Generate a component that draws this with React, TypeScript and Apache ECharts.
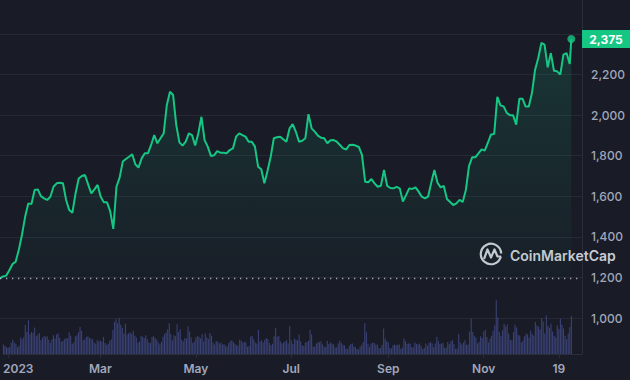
import React, { useEffect, useRef } from 'react';
import * as echarts from 'echarts';

// ---- data ----
// price sampled every 2 days starting 2022-12-29 (USD)
const prices = [
  1196, 1205, 1209, 1237, 1266, 1278, 1338, 1412, 1500, 1565, 1562, 1631, 1634, 1601, 1590, 1582,
  1598, 1647, 1664, 1667, 1664, 1582, 1532, 1519, 1614, 1688, 1700, 1705, 1659, 1614, 1634, 1656,
  1598, 1570, 1570, 1527, 1439, 1647, 1692, 1771, 1784, 1795, 1807, 1758, 1741, 1787, 1812, 1812,
  1853, 1902, 1861, 1886, 1910, 2050, 2115, 2099, 1951, 1866, 1850, 1869, 1910, 1902, 1850, 1910,
  1992, 1877, 1845, 1799, 1802, 1823, 1815, 1815, 1812, 1828, 1836, 1894, 1910, 1902, 1894, 1869,
  1869, 1845, 1746, 1733, 1664, 1726, 1795, 1886, 1891, 1894, 1881, 1869, 1935, 1956, 1918, 1869,
  1874, 1886, 2005, 1935, 1919, 1899, 1889, 1886, 1861, 1876, 1877, 1869, 1853, 1836, 1831, 1853,
  1854, 1850, 1843, 1804, 1672, 1669, 1685, 1664, 1647, 1652, 1730, 1652, 1641, 1639, 1646, 1639,
  1574, 1606, 1639, 1636, 1644, 1623, 1598, 1590, 1598, 1667, 1730, 1667, 1644, 1651, 1587, 1572,
  1557, 1565, 1582, 1572, 1631, 1749, 1792, 1792, 1812, 1831, 1825, 1864, 1905, 1907, 2090, 2048,
  2043, 2011, 2000, 2000, 1953, 2081, 2081, 2042, 2043, 2109, 2224, 2282, 2356, 2348, 2236, 2306,
  2219, 2216, 2200, 2298, 2306, 2252,
];
const lastDate = '2023-12-27';
const lastPrice = 2375;
const openPrice = 1196;

// daily volume starting 2022-12-29 (billion USD)
const volumes = [
  4.2, 3.6, 3.0, 2.6, 3.2, 4.8, 6.2, 5.0, 4.4, 3.0, 3.6, 7.2, 6.4, 7.4, 12.7, 9.6, 14.8, 8.6, 9.6, 9.2, 11.6,
  7.8, 8.5, 9.2, 6.0, 7.2, 8.0, 7.5, 7.8, 6.2, 4.8, 6.5, 8.2, 6.8,
  8.6, 9.0, 7.0, 5.2, 5.8, 6.5, 7.0, 6.8, 9.5, 8.0, 4.5, 5.0, 7.8, 8.2, 9.5, 11.8, 10.2, 6.0, 6.5, 7.4, 7.8, 7.0, 6.8, 6.5, 5.0, 4.5, 6.0, 5.5,
  6.0, 5.4, 7.5, 4.8, 3.9, 4.5, 5.8, 6.5,
  10.5, 14.0, 15.2, 13.5, 15.8, 12.8, 11.5, 9.0, 13.2, 8.5,
  9.0, 9.5, 8.8, 10.2, 8.0, 7.2, 5.0, 5.5, 8.0, 7.5, 7.0, 8.2, 6.5,
  5.0, 4.8, 7.6, 7.8, 7.0, 6.2, 5.0, 4.2, 5.2, 7.6, 8.8, 9.4, 10.8,
  13.5, 8.8, 6.0, 8.2, 7.8, 13.0, 9.5, 10.8, 6.2, 5.5, 7.0, 6.8, 12.0, 9.8, 7.2, 4.8, 5.5,
  7.2, 8.0, 7.5, 6.8, 8.6, 5.5, 9.0, 7.2, 6.6, 9.2, 8.0, 5.0, 4.2, 5.8, 5.2, 4.6, 5.0, 4.0, 4.4, 3.6, 3.2, 4.8, 5.6, 6.0, 5.2, 4.4, 3.8, 3.6, 6.2, 5.8, 5.0,
  5.4, 5.0, 3.2, 3.5, 7.5, 8.0, 6.4, 5.0, 4.6, 10.5, 5.5, 6.0, 5.0, 6.2, 7.0, 6.5, 4.8, 3.8, 4.5, 7.8, 11.4, 7.5, 8.0, 5.6, 4.6, 5.0, 5.5, 6.0, 4.6, 12.2,
  6.0, 4.4, 6.8, 6.2, 6.0, 8.5, 5.6, 3.8, 3.5, 5.0, 5.2, 5.8, 10.5, 8.5, 3.4, 3.2, 4.6, 5.0, 5.2, 5.6, 4.2, 3.0, 3.2, 5.8, 4.4, 5.0, 4.6, 4.2, 2.8, 3.0, 4.6,
  5.8, 4.8, 4.0, 3.8, 2.4, 2.2, 3.6, 4.4, 4.6, 3.4, 3.0, 2.2, 2.0, 3.2, 4.0, 5.2, 13.6, 9.5, 4.5, 3.0, 4.6, 5.0, 4.8, 4.0, 4.2, 2.6, 2.5, 4.0, 11.2, 6.8, 5.6,
  5.0, 2.6, 2.4, 3.8, 4.2, 3.8, 4.0, 4.2, 2.2, 2.8, 6.8, 5.6, 4.4, 4.6, 4.6, 3.0, 2.8, 5.0, 4.4, 4.2, 4.6, 3.6, 2.2, 2.6, 4.6, 3.6, 4.8, 5.2, 4.6, 3.0,
  4.6, 7.6, 5.6, 4.4, 4.6, 4.8, 2.6, 2.8, 5.2, 4.4, 5.6, 6.0, 4.4, 2.2, 2.4, 8.8, 5.0, 4.2, 5.0, 6.0, 4.0, 4.2, 9.8, 15.5, 9.6, 8.0, 7.2, 4.6, 5.2, 7.8, 7.0,
  9.8, 10.5, 7.4, 5.0, 6.8, 8.0, 10.2, 12.5, 23.5, 16.0, 9.6, 7.8, 10.4, 13.2, 12.0, 13.0, 9.0, 6.2, 6.0, 9.6, 12.8, 11.6, 8.4, 8.0, 5.0, 5.8, 7.8, 9.0, 8.6, 7.2,
  10.2, 8.8, 8.0, 14.0, 12.5, 12.0, 10.8, 15.8, 14.2, 9.0, 16.8, 12.4, 11.5, 13.2, 9.8, 8.0, 7.2, 12.6, 11.0, 15.5, 12.8, 11.2, 8.0, 6.4, 9.0, 11.8, 16.6,
];

const tickDates = ['2023-01-01', '2023-03-01', '2023-05-01', '2023-07-01', '2023-09-01', '2023-11-01', '2023-12-19'];
const tickLabels = ['2023', 'Mar', 'May', 'Jul', 'Sep', 'Nov', '19'];

const priceMin = 1000;
const priceMax = 2400;
const priceInterval = 200;

// ---- helpers: x axis measured in days since 2022-12-29 ----
const DAY = 86400000;
const startTs = Date.UTC(2022, 11, 29);
const dayOf = (s: string) => {
  const [y, m, d] = s.split('-').map(Number);
  return Math.round((Date.UTC(y, m - 1, d) - startTs) / DAY);
};

const BG = '#191b26';
const GREEN = '#16c784';
const GRID_LINE = '#262836';
const LABEL = '#a1a7bb';
const MARK = '#c8cbd4';

export default function App() {
  const ref = useRef<HTMLDivElement>(null);
  useEffect(() => {
    if (!ref.current) return;
    const chart = echarts.init(ref.current, undefined, { renderer: 'svg' });

    const priceData: [number, number][] = prices.map((p, i) => [i * 2, p]);
    priceData.push([dayOf(lastDate), lastPrice]);
    const volData: [number, number][] = volumes.map((v, i) => [i, v]);

    const axisMin = 0;
    const axisMax = 369.8;
    const tickValues = tickDates.map(dayOf);
    const labelValues = tickValues.map((t, i) => (i === 0 ? t + 6.5 : t));

    const fontFamily = 'Inter, "Noto Sans", sans-serif';

    chart.setOption({
      animation: false,
      backgroundColor: BG,
      textStyle: { fontFamily },
      grid: [
        { left: 0, right: 48, top: 34, height: 284 },
        { left: 0, right: 48, top: 290, height: 64 },
      ],
      xAxis: [
        {
          type: 'value', gridIndex: 0, min: axisMin, max: axisMax, show: false,
          splitLine: { show: false },
        },
        {
          type: 'value', gridIndex: 1, min: axisMin, max: axisMax,
          axisLine: { show: true, onZero: false, lineStyle: { color: '#2b2d3b', width: 1 } },
          axisTick: { show: true, customValues: tickValues, length: 4, lineStyle: { color: '#2b2d3b' } },
          splitLine: { show: false },
          axisLabel: {
            customValues: labelValues,
            color: LABEL,
            fontSize: 12,
            fontWeight: 600,
            fontFamily,
            margin: 8,
            formatter: (v: number) => {
              let best = 0;
              let bd = Infinity;
              labelValues.forEach((lv, i) => {
                const d = Math.abs(lv - v);
                if (d < bd) { bd = d; best = i; }
              });
              return tickLabels[best];
            },
          },
        },
      ],
      yAxis: [
        {
          type: 'value', gridIndex: 0, position: 'right', min: priceMin, max: priceMax, interval: priceInterval,
          axisLine: { show: false }, axisTick: { show: false },
          splitLine: { show: true, lineStyle: { color: GRID_LINE, width: 1 } },
          axisLabel: {
            color: LABEL, fontSize: 12, fontWeight: 500, fontFamily, margin: 9,
            showMaxLabel: false,
            formatter: (v: number) => v.toLocaleString('en-US'),
          },
        },
        {
          type: 'value', gridIndex: 1, min: 0, max: 28, show: false, splitLine: { show: false },
        },
      ],
      series: [
        {
          type: 'bar', xAxisIndex: 1, yAxisIndex: 1, data: volData, barWidth: 1.1,
          itemStyle: { color: '#3a4275' }, silent: true,
        },
        {
          type: 'line', xAxisIndex: 0, yAxisIndex: 0, data: priceData, showSymbol: false,
          lineStyle: { color: GREEN, width: 2 },
          itemStyle: { color: GREEN },
          areaStyle: {
            origin: openPrice,
            color: new echarts.graphic.LinearGradient(0, 0, 0, 1, [
              { offset: 0, color: 'rgba(22,199,132,0.22)' },
              { offset: 1, color: 'rgba(22,199,132,0.03)' },
            ]),
          },
          markLine: {
            silent: true, symbol: ['none', 'none'], animation: false,
            data: [
              {
                yAxis: openPrice,
                lineStyle: { color: 'rgba(210,214,226,0.75)', width: 1.3, type: [1.3, 4.7] },
                label: { show: false },
              },
            ],
          },
          z: 3,
        },
        {
          type: 'scatter', xAxisIndex: 0, yAxisIndex: 0,
          data: [[dayOf(lastDate), lastPrice]],
          symbol: 'circle', symbolSize: 8, itemStyle: { color: GREEN }, z: 4, silent: true,
        },
      ],
      graphic: [
        { type: 'line', shape: { x1: 582.5, y1: 0, x2: 582.5, y2: 354 }, style: { stroke: '#2b2d3b', lineWidth: 1 }, silent: true },
        {
          type: 'group', silent: true,
          children: [
            { type: 'arc', shape: { cx: 491, cy: 254, r: 10.2, startAngle: 0.25, endAngle: Math.PI * 2 - 0.05 }, style: { stroke: MARK, lineWidth: 2.2, fill: 'none' } },
            { type: 'polyline', shape: { points: [[484, 259], [487.5, 249.5], [491, 257.5], [494.5, 249.5], [497.5, 256.5], [501, 256.5]] }, style: { stroke: MARK, lineWidth: 2.2, fill: 'none', lineJoin: 'round' } },
            { type: 'text', x: 510, y: 255, style: { text: 'CoinMarketCap', fill: MARK, fontSize: 14, fontWeight: 600, fontFamily, verticalAlign: 'middle', align: 'left' } },
          ],
        },
      ],
    });

    // price tag on the right axis, placed via the axis scale
    const tagY = chart.convertToPixel({ yAxisIndex: 0 }, lastPrice) as number;
    chart.setOption({
      graphic: [
        { type: 'line', shape: { x1: 582.5, y1: 0, x2: 582.5, y2: 354 }, style: { stroke: '#2b2d3b', lineWidth: 1 }, silent: true },
        {
          type: 'group', silent: true,
          children: [
            { type: 'arc', shape: { cx: 491, cy: 254, r: 10.2, startAngle: 0.25, endAngle: Math.PI * 2 - 0.05 }, style: { stroke: MARK, lineWidth: 2.2, fill: 'none' } },
            { type: 'polyline', shape: { points: [[484, 259], [487.5, 249.5], [491, 257.5], [494.5, 249.5], [497.5, 256.5], [501, 256.5]] }, style: { stroke: MARK, lineWidth: 2.2, fill: 'none', lineJoin: 'round' } },
            { type: 'text', x: 510, y: 255, style: { text: 'CoinMarketCap', fill: MARK, fontSize: 14, fontWeight: 600, fontFamily, verticalAlign: 'middle', align: 'left' } },
          ],
        },
        {
          type: 'group', silent: true, z: 10,
          children: [
            { type: 'rect', shape: { x: 582, y: tagY - 9, width: 48, height: 18 }, style: { fill: GREEN } },
            { type: 'text', x: 606, y: tagY, style: { text: lastPrice.toLocaleString('en-US'), fill: '#ffffff', fontSize: 12, fontWeight: 700, fontFamily, align: 'center', verticalAlign: 'middle' } },
          ],
        },
      ],
    }, { replaceMerge: ['graphic'] });

    return () => chart.dispose();
  }, []);
  return <div ref={ref} style={{ position: 'absolute', left: 0, top: 0, width: 630, height: 380, background: BG }} />;
}
